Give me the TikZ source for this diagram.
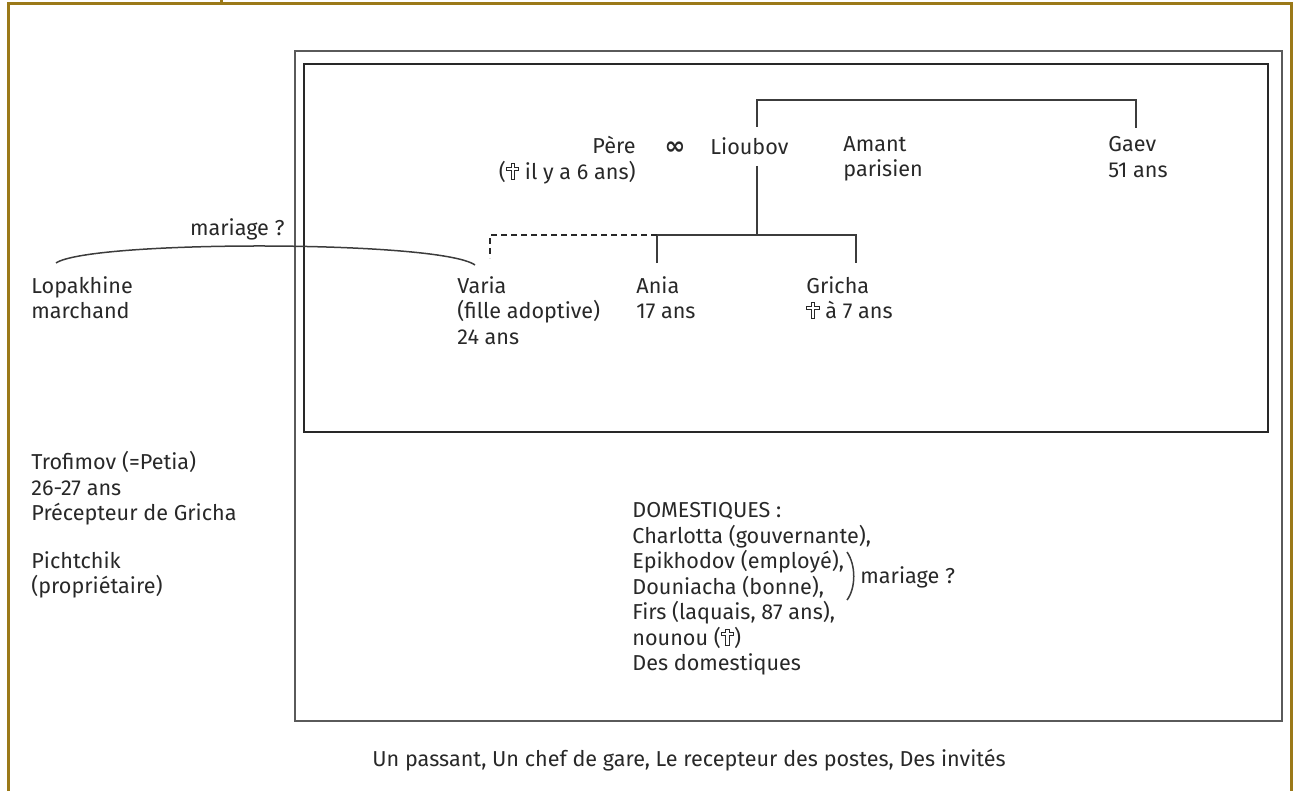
\documentclass[tikz,border=0pt]{standalone}
\usepackage{fontspec}
\setmainfont{Fira Sans}
\newfontfamily\symf{DejaVu Sans}
\newcommand{\mycross}{\tikz[baseline=0pt,x=1pt,y=1pt]\draw[line width=0.4pt, draw=txtc]
  (-0.8,0) -- (0.8,0) -- (0.8,4.6) -- (3.1,4.6) -- (3.1,6.1) -- (0.8,6.1) -- (0.8,8)
  -- (-0.8,8) -- (-0.8,6.1) -- (-3.1,6.1) -- (-3.1,4.6) -- (-0.8,4.6) -- cycle;}
\newcommand{\myinf}{{\symf\bfseries\fontsize{12.5}{12.75}\selectfont ∞}}
\definecolor{olivefr}{RGB}{155,121,24}
\definecolor{txtc}{RGB}{40,40,40}
\definecolor{boxc}{RGB}{90,90,90}
\definecolor{linec}{RGB}{60,60,60}
\tikzset{
  txt/.style={inner sep=0pt, anchor=north west, align=left, text=txtc,
    font=\fontsize{10.8}{12.75}\selectfont, execute at begin node=\strut},
  txtr/.style={txt, anchor=north east, align=right},
  frameline/.style={draw=olivefr, line width=1.5pt},
  outerbox/.style={draw=boxc, line width=1pt},
  innerbox/.style={draw=txtc, line width=0.8pt},
  treeline/.style={draw=linec, line width=0.75pt},
  dashline/.style={draw=txtc, line width=1pt, dash pattern=on 3pt off 2pt},
}
\begin{document}
\begin{tikzpicture}[x=0.5pt,y=-0.5pt]
\useasboundingbox (0,0) rectangle (1299,791);
% outer olive frame
\draw[frameline] (8.5,795) -- (8.5,4) -- (1291.5,4) -- (1291.5,795);
\draw[frameline] (221,0) -- (221,4);
% boxes
\draw[outerbox] (295,51) rectangle (1282,721);
\draw[innerbox] (304,64) rectangle (1268,432);

% family nodes
\node[txtr] (pere) at (636,136) {Père\\(\mycross{} il y a 6 ans)};
\node[txt, anchor=north] (inf) at (675,136) {\myinf};
\node[txt] (lioubov) at (710,136) {Lioubov};
\node[txt] (amant) at (843,136) {Amant\\parisien};
\node[txt] (gaev) at (1108,136) {Gaev\\51 ans};
\node[txt] (varia) at (457,276) {Varia\\(fille adoptive)\\24 ans};
\node[txt] (ania) at (636,276) {Ania\\17 ans};
\node[txt] (gricha) at (806,276) {Gricha\\\mycross{} à 7 ans};
\node[txt] (lopakhine) at (31,276) {Lopakhine\\marchand};
\node[txt] (trofimov) at (31,451) {Trofimov (=Petia)\\26-27 ans\\Précepteur de Gricha};
\node[txt] (pichtchik) at (31,551) {Pichtchik\\(propriétaire)};
\node[txtr] (mar1) at (285,217) {mariage ?};
\node[txt] (domest) at (632,502) {DOMESTIQUES :\\Charlotta (gouvernante),\\Epikhodov (employé),\\Douniacha (bonne),\\Firs (laquais, 87 ans),\\nounou (\mycross)\\Des domestiques};
\node[txt] (mar2) at (860,565) {mariage ?};
\node[txt] (others) at (372,748) {Un passant, Un chef de gare, Le recepteur des postes, Des invités};

% connector points
\coordinate (lt) at (757,127);
\coordinate (lb) at (757,166);
\coordinate (gt) at (1136,128);
\coordinate (junc) at (757,235);
\coordinate (ajunc) at (657,235);
\coordinate (gjunc) at (856,235);
\coordinate (at) at (657,263);
\coordinate (gtp) at (856,263);
\coordinate (vt) at (490,258);
\coordinate (lopa) at (56,263);
\coordinate (varc) at (475,265);
\coordinate (brt) at (847,552);
\coordinate (brb) at (847,600);

% sibling bracket Lioubov - Gaev
\draw[treeline] (lt) -- (lt |- 0,100) -- (gt |- 0,100) -- (gt);
% children
\draw[treeline] (lb) -- (junc);
\draw[treeline] (at) -- (ajunc) -- (gjunc) -- (gtp);
\draw[dashline] (ajunc) -- (vt |- ajunc) -- (vt);
% marriage curve
\draw[treeline] (lopa) .. controls (90,240) and (440,240) .. (varc);
% parenthesis for Epikhodov/Douniacha
\draw[treeline] (brt) .. controls (856,565) and (856,588) .. (brb);
\end{tikzpicture}
\end{document}
